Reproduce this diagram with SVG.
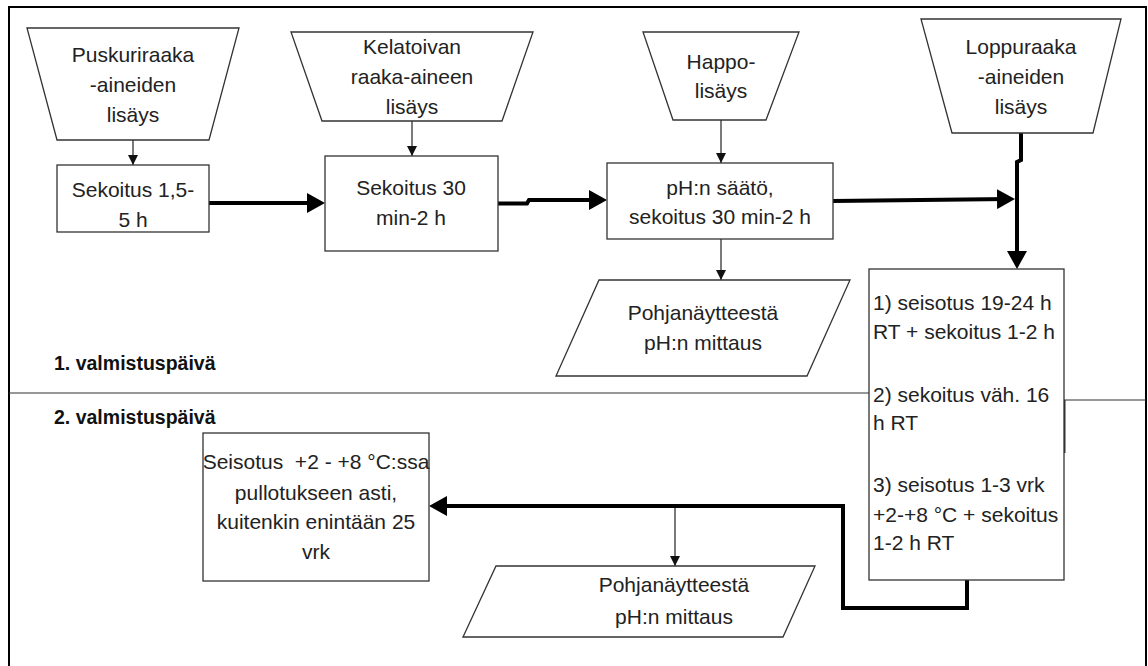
<svg xmlns="http://www.w3.org/2000/svg" width="1148" height="666" viewBox="0 0 1148 666">
<style>
.shape{fill:#fff;stroke:#333;stroke-width:1.3}
.t{font-family:"Liberation Sans",Arial,sans-serif;font-size:21px;fill:#222;text-anchor:middle}
.tl{font-family:"Liberation Sans",Arial,sans-serif;font-size:21px;fill:#222}
.lbl{font-family:"Liberation Sans",Arial,sans-serif;font-size:19.5px;font-weight:bold;fill:#111}
.thin{fill:none;stroke:#222;stroke-width:1.2;marker-end:url(#ah)}
.thick{fill:none;stroke:#000;stroke-width:4;marker-end:url(#AH)}
.div{stroke:#333;stroke-width:1.2}
</style>
<defs>
<marker id="ah" viewBox="0 0 10 10" refX="10" refY="5" markerWidth="10" markerHeight="10" markerUnits="userSpaceOnUse" orient="auto"><path d="M0,0 L10,5 L0,10 z" fill="#111"/></marker>
<marker id="AH" viewBox="0 0 18 20" refX="12" refY="10" markerWidth="18" markerHeight="20" markerUnits="userSpaceOnUse" orient="auto"><path d="M0,0 L18,10 L0,20 z" fill="#000"/></marker>
</defs>
<rect x="0" y="0" width="1148" height="666" fill="#fff"/>
<rect x="9" y="7" width="1137" height="700" fill="none" stroke="#000" stroke-width="2"/>
<g id="dividers">
<line class="div" x1="9" y1="393" x2="869" y2="393"/>
<line class="div" x1="1064" y1="400" x2="1146" y2="400"/>
<line x1="1064.5" y1="400" x2="1064.5" y2="453" stroke="#333" stroke-width="2"/>
<text class="lbl" x="54" y="370">1. valmistuspäivä</text>
<text class="lbl" x="54" y="424">2. valmistuspäivä</text>
</g>
<g id="connectors">
<line class="thin" x1="133" y1="140" x2="133" y2="165"/>
<line class="thin" x1="412" y1="121" x2="412" y2="156"/>
<line class="thin" x1="721" y1="120" x2="721" y2="163"/>
<line class="thin" x1="721" y1="239" x2="721" y2="280"/>
<line class="thin" x1="675" y1="506" x2="675" y2="566"/>
<path class="thick" d="M209,203 L319,203"/>
<path class="thick" d="M498,203.5 L527,203.5 L529,200 L601,200"/>
<path class="thick" d="M833,201 L1009,199"/>
<path class="thick" d="M1021,133 L1021,160 L1017,162 L1017,263"/>
<path class="thick" d="M967,580 L967,608 L843,608 L843,506 L435,506"/>
</g>
<g id="n1">
<polygon class="shape" points="27,28 239,28 209,140 57,140"/>
<text class="t" x="133" y="62">Puskuriraaka</text>
<text class="t" x="133" y="92">-aineiden</text>
<text class="t" x="133" y="122">lisäys</text>
</g>
<g id="n2">
<rect class="shape" x="57" y="165" width="152" height="67"/>
<text class="t" x="133" y="197">Sekoitus 1,5-</text>
<text class="t" x="133" y="227">5 h</text>
</g>
<g id="n3">
<polygon class="shape" points="291,32 533,32 502,121 322,121"/>
<text class="t" x="412" y="54">Kelatoivan</text>
<text class="t" x="412" y="84">raaka-aineen</text>
<text class="t" x="412" y="114">lisäys</text>
</g>
<g id="n4">
<rect class="shape" x="325" y="156" width="173" height="95"/>
<text class="t" x="411" y="195">Sekoitus 30</text>
<text class="t" x="411" y="225">min-2 h</text>
</g>
<g id="n5">
<polygon class="shape" points="643,32 799,32 766,120 673,120"/>
<text class="t" x="721" y="69">Happo-</text>
<text class="t" x="721" y="98">lisäys</text>
</g>
<g id="n6">
<rect class="shape" x="607" y="163" width="226" height="76"/>
<text class="t" x="720" y="195">pH:n säätö,</text>
<text class="t" x="720" y="224">sekoitus 30 min-2 h</text>
</g>
<g id="n7">
<polygon class="shape" points="921,19 1121,19 1093,133 952,133"/>
<text class="t" x="1021" y="54">Loppuraaka</text>
<text class="t" x="1021" y="84">-aineiden</text>
<text class="t" x="1021" y="114">lisäys</text>
</g>
<g id="n8">
<polygon class="shape" points="599,280 850,280 807,376 556,376"/>
<text class="t" x="703" y="320">Pohjanäytteestä</text>
<text class="t" x="703" y="350">pH:n mittaus</text>
</g>
<g id="n9">
<rect class="shape" x="869" y="269" width="195" height="311"/>
<text class="tl" x="873" y="310">1) seisotus 19-24 h</text>
<text class="tl" x="873" y="339">RT + sekoitus 1-2 h</text>
<text class="tl" x="873" y="402">2) sekoitus väh. 16</text>
<text class="tl" x="873" y="430">h RT</text>
<text class="tl" x="873" y="492">3) seisotus 1-3 vrk</text>
<text class="tl" x="873" y="522">+2-+8 °C + sekoitus</text>
<text class="tl" x="873" y="550">1-2 h RT</text>
</g>
<g id="n10">
<rect class="shape" x="203" y="433" width="226" height="148"/>
<text class="t" x="316" y="469" xml:space="preserve">Seisotus  +2 - +8 °C:ssa</text>
<text class="t" x="316" y="500">pullotukseen asti,</text>
<text class="t" x="316" y="529">kuitenkin enintään 25</text>
<text class="t" x="316" y="559">vrk</text>
</g>
<g id="n11">
<polygon class="shape" points="496,566 815,566 783,637 463,637"/>
<text class="t" x="674" y="592">Pohjanäytteestä</text>
<text class="t" x="674" y="624">pH:n mittaus</text>
</g>
</svg>
